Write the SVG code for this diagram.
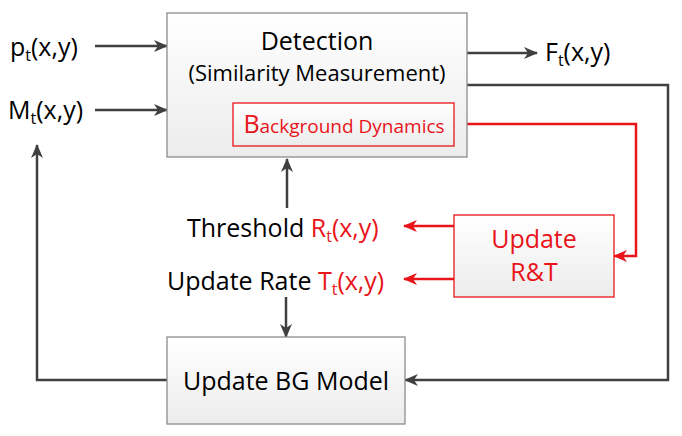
<svg xmlns="http://www.w3.org/2000/svg" width="682" height="436" viewBox="0 0 682 436">
<defs>
<linearGradient id="g" x1="0" y1="0" x2="0" y2="1">
<stop offset="0" stop-color="#ffffff"/>
<stop offset="1" stop-color="#ececec"/>
</linearGradient>
<marker id="ak" markerWidth="14" markerHeight="12" refX="13" refY="6" orient="auto" markerUnits="userSpaceOnUse">
<path d="M0,0 L14,6 L0,12 L4,6 z" fill="#404040"/>
</marker>
<marker id="ar" markerWidth="14" markerHeight="12" refX="13" refY="6" orient="auto" markerUnits="userSpaceOnUse">
<path d="M0,0 L14,6 L0,12 L4,6 z" fill="#e8141a"/>
</marker>
</defs>
<style>
text{font-family:"Open Sans","Liberation Sans",sans-serif;font-size:25px;fill:#000}
.r{fill:#e8141a}
.box{fill:url(#g);stroke:#8c8c8c;stroke-width:1.3}
.rbox{fill:url(#g);stroke:#e8141a;stroke-width:1.3}
.k{stroke:#404040;stroke-width:2.5;fill:none}
.kr{stroke:#e8141a;stroke-width:2.5;fill:none}
.sub{font-size:16px}
</style>
<rect width="682" height="436" fill="#fff"/>
<g id="connectors">
<line class="k" x1="95" y1="46" x2="167" y2="46" marker-end="url(#ak)"/>
<line class="k" x1="95" y1="110" x2="167" y2="110" marker-end="url(#ak)"/>
<line class="k" x1="467" y1="53" x2="537" y2="53" marker-end="url(#ak)"/>
<polyline class="k" points="467,85 668,85 668,380 405,380" marker-end="url(#ak)"/>
<polyline class="k" points="167,380 37,380 37,145" marker-end="url(#ak)"/>
<line class="k" x1="287" y1="208" x2="287" y2="159" marker-end="url(#ak)"/>
<line class="k" x1="286" y1="297" x2="286" y2="337" marker-end="url(#ak)"/>
<polyline class="kr" points="454,124 636,124 636,256 614,256" marker-end="url(#ar)"/>
<line class="kr" x1="454" y1="226" x2="404" y2="226" marker-end="url(#ar)"/>
<line class="kr" x1="454" y1="279" x2="404" y2="279" marker-end="url(#ar)"/>
</g>
<g id="detection">
<rect class="box" x="167" y="13" width="300" height="144"/>
<text x="317" y="50" text-anchor="middle">Detection</text>
<text x="317" y="81" text-anchor="middle" style="font-size:22px">(Similarity Measurement)</text>
</g>
<g id="bg-dynamics">
<rect class="rbox" x="233" y="103" width="221" height="43"/>
<text x="344" y="133" text-anchor="middle" class="r" style="font-size:19px"><tspan style="font-size:25px">B</tspan>ackground Dynamics</text>
</g>
<g id="update-rt">
<rect class="rbox" x="454" y="215" width="160" height="82"/>
<text x="534" y="248" text-anchor="middle" class="r">Update</text>
<text x="534" y="281" text-anchor="middle" class="r">R&amp;T</text>
</g>
<g id="update-bg">
<rect class="box" x="167" y="337" width="238" height="87"/>
<text x="286" y="390" text-anchor="middle">Update BG Model</text>
</g>
<g id="labels">
<text x="10" y="56">p<tspan class="sub" dy="5">t</tspan><tspan dy="-5">(x,y)</tspan></text>
<text x="8" y="119">M<tspan class="sub" dy="5">t</tspan><tspan dy="-5">(x,y)</tspan></text>
<text x="545" y="61">F<tspan class="sub" dy="5">t</tspan><tspan dy="-5">(x,y)</tspan></text>
<text x="187" y="237">Threshold <tspan class="r">R</tspan><tspan class="r sub" dy="5">t</tspan><tspan class="r" dy="-5">(x,y)</tspan></text>
<text x="167" y="290">Update Rate <tspan class="r">T</tspan><tspan class="r sub" dy="5">t</tspan><tspan class="r" dy="-5">(x,y)</tspan></text>
</g>
</svg>
